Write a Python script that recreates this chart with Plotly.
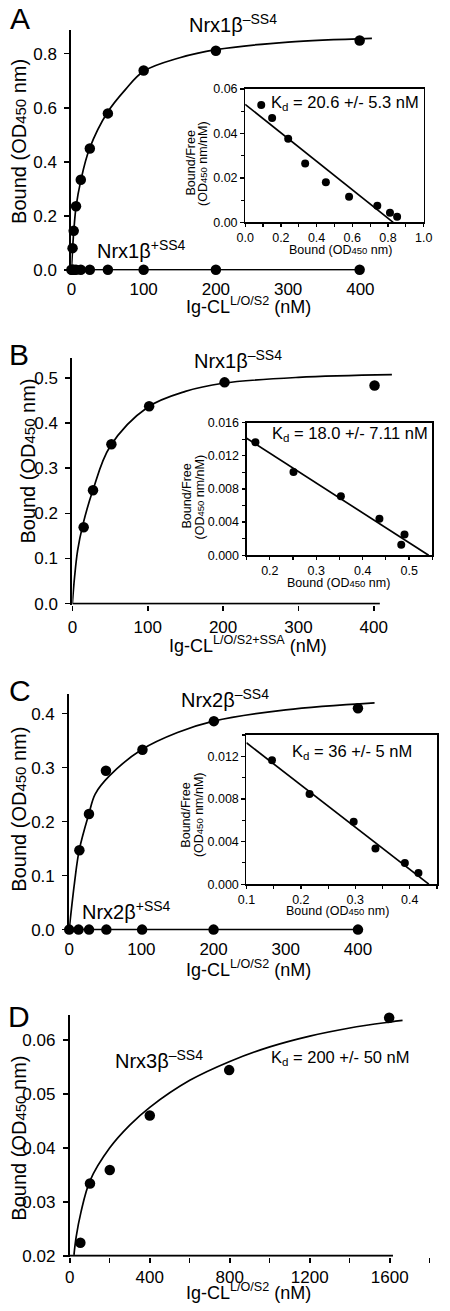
import plotly.graph_objects as go

W, H = 450, 1311
FONT = "Liberation Sans, Arial, sans-serif"

# ---------------- data ----------------
# Panel A  Nrx1b-SS4 / +SS4 vs Ig-CL L/O/S2
A_conc = [1.6, 3.2, 6.4, 13, 25.5, 50.5, 100, 200, 399]
A_minus = [0.080, 0.144, 0.235, 0.333, 0.449, 0.579, 0.738, 0.811, 0.849]
A_plus_conc = [0, 1.6, 3.2, 6.4, 13, 25.5, 50.5, 100, 200, 399]
A_plus = [0, 0, 0, 0, 0, 0, 0, 0, 0, 0]
A_fit_x = [0, 1.6, 3.2, 6.4, 13, 25, 50, 75, 100, 150, 200, 300, 416]
A_fit_y = [0, 0.075, 0.14, 0.232, 0.33, 0.448, 0.583, 0.668, 0.735, 0.785, 0.815, 0.843, 0.857]
A_sc_bound = [0.090, 0.151, 0.241, 0.336, 0.452, 0.582, 0.740, 0.811, 0.851]
A_sc_bf = [0.0528, 0.0469, 0.0376, 0.0265, 0.0180, 0.0115, 0.0075, 0.0043, 0.0025]
A_sc_line_x = [0, 0.829]
A_sc_line_y = [0.0531, 0]

# Panel B  Nrx1b-SS4 vs Ig-CL L/O/S2+SSA
B_conc = [15, 27.4, 51.8, 101.9, 202, 401]
B_minus = [0.169, 0.251, 0.353, 0.437, 0.490, 0.483]
B_fit_x = [0, 3, 7, 14, 27, 50, 100, 150, 200, 300, 424]
B_fit_y = [0, 0.06, 0.118, 0.175, 0.25, 0.348, 0.435, 0.470, 0.488, 0.501, 0.507]
B_sc_bound = [0.169, 0.251, 0.353, 0.436, 0.483, 0.490]
B_sc_bf = [0.01362, 0.01004, 0.00711, 0.00441, 0.00127, 0.0025]
B_sc_line_x = [0.15, 0.542]
B_sc_line_y = [0.0141, 0]

# Panel C  Nrx2b-SS4 / +SS4
C_conc = [14.1, 27.4, 50.9, 101.5, 200.4, 400]
C_minus = [0.147, 0.214, 0.294, 0.333, 0.386, 0.410]
C_plus_conc = [0, 13, 27.5, 51.5, 101, 200, 400]
C_plus = [0, 0, 0, 0, 0, 0, 0]
C_fit_x = [0, 7.4, 14, 27.4, 36, 56, 100, 150, 200, 300, 423]
C_fit_y = [0, 0.087, 0.148, 0.215, 0.251, 0.285, 0.333, 0.365, 0.386, 0.407, 0.420]
C_sc_bound = [0.147, 0.216, 0.297, 0.337, 0.391, 0.416]
C_sc_bf = [0.01163, 0.00847, 0.00585, 0.00334, 0.00198, 0.00105]
C_sc_line_x = [0.1, 0.435]
C_sc_line_y = [0.01327, 0]

# Panel D  Nrx3b-SS4
D_conc = [53, 101, 200, 400, 797, 1597]
D_minus = [0.02243, 0.0334, 0.0359, 0.0460, 0.0544, 0.0641]
D_fit_x = [21, 32, 56, 101, 200, 300, 400, 600, 800, 1000, 1200, 1400, 1600, 1664]
D_fit_y = [0.0202, 0.0235, 0.0281, 0.0339, 0.0400, 0.0442, 0.0475, 0.0525, 0.0560,
           0.0587, 0.0607, 0.0622, 0.0633, 0.0636]

A_yticks = [0, 0.2, 0.4, 0.6, 0.8]
B_yticks = [0, 0.1, 0.2, 0.3, 0.4, 0.5]
C_yticks = [0, 0.1, 0.2, 0.3, 0.4]
D_yticks = [0.02, 0.03, 0.04, 0.05, 0.06]
ABC_xticks = [0, 100, 200, 300, 400]
D_xticks = [0, 400, 800, 1200, 1600]


def xdom(l, r):
    return [l / W, r / W]


def ydom(b, t):
    return [1 - b / H, 1 - t / H]


fig = go.Figure()

LW = 1.7


def add_pts(x, y, ax, size=10.5):
    fig.add_trace(go.Scatter(x=x, y=y, mode="markers", xaxis="x" + ax, yaxis="y" + ax,
                             marker=dict(color="black", size=size), cliponaxis=False))


def add_curve(x, y, ax, spline=True, width=LW):
    fig.add_trace(go.Scatter(x=x, y=y, mode="lines", xaxis="x" + ax, yaxis="y" + ax,
                             line=dict(color="black", width=width,
                                       shape="spline" if spline else "linear", smoothing=1.0)))


# A
add_curve(A_fit_x, A_fit_y, "")
add_curve(A_plus_conc, A_plus, "", spline=False)
add_pts(A_conc, A_minus, "")
add_pts(A_plus_conc, A_plus, "")
add_curve(A_sc_line_x, A_sc_line_y, "2", spline=False)
add_pts(A_sc_bound, A_sc_bf, "2", size=8)
# B
add_curve(B_fit_x, B_fit_y, "3")
add_pts(B_conc, B_minus, "3")
add_curve(B_sc_line_x, B_sc_line_y, "4", spline=False)
add_pts(B_sc_bound, B_sc_bf, "4", size=8)
# C
add_curve(C_fit_x, C_fit_y, "5")
add_curve(C_plus_conc, C_plus, "5", spline=False)
add_pts(C_conc, C_minus, "5")
add_pts(C_plus_conc, C_plus, "5")
add_curve(C_sc_line_x, C_sc_line_y, "6", spline=False)
add_pts(C_sc_bound, C_sc_bf, "6", size=8)
# D
add_curve(D_fit_x, D_fit_y, "7")
add_pts(D_conc, D_minus, "7")

tick_main = dict(size=17, family=FONT, color="black")
tick_in = dict(size=12.5, family=FONT, color="black")


def main_y(dom, rng, tickvals, fmt, anchor):
    return dict(domain=dom, range=rng, tickvals=tickvals, tickformat=fmt, anchor=anchor,
                showline=True, linewidth=2, linecolor="black", ticks="outside", ticklen=5,
                tickwidth=1.6, tickcolor="black", tickfont=tick_main, showgrid=False,
                zeroline=False, ticklabelstandoff=4)


def main_x(dom, rng, tickvals, anchor, ticks, standoff):
    return dict(domain=dom, range=rng, tickvals=tickvals, anchor=anchor, showline=False,
                ticks=ticks, ticklen=5, tickwidth=1.6, tickcolor="black", tickfont=tick_main,
                showgrid=False, zeroline=False, ticklabelstandoff=standoff)


def in_ax(dom, rng, dtick, fmt, anchor, minor_dtick, tick0=0):
    return dict(domain=dom, range=rng, dtick=dtick, tick0=tick0, tickformat=fmt, anchor=anchor,
                showline=True, mirror=True, linewidth=1.6, linecolor="black", ticks="outside",
                ticklen=3.5, tickwidth=1.3, tickcolor="black", tickfont=tick_in, showgrid=False,
                zeroline=False, ticklabelstandoff=0,
                minor=dict(ticks="outside", ticklen=3, dtick=minor_dtick, tick0=tick0,
                           tickwidth=1.1, tickcolor="black", showgrid=False))


fig.update_layout(
    width=W, height=H, margin=dict(l=0, r=0, t=0, b=0),
    paper_bgcolor="white", plot_bgcolor="rgba(0,0,0,0)", showlegend=False,
    font=dict(family=FONT, color="black"), hovermode=False,
    # A main
    xaxis=main_x(xdom(65, 445), [0, 380 / 0.7525], ABC_xticks, "y", "", 6),
    yaxis=main_y(ydom(267, 23), [-1 / 273.4, 243 / 273.4], A_yticks, ".1f", "x"),
    # A inset
    xaxis2=in_ax(xdom(246, 432), [0, 1.0], 0.2, ".1f", "y2", 0.1),
    yaxis2=in_ax(ydom(218, 83), [0, 0.06], 0.02, ".2f", "x2", 0.01),
    # B main
    xaxis3=main_x(xdom(66, 445), [0, 379 / 0.785], ABC_xticks, "y3", "outside", 2),
    yaxis3=main_y(ydom(605, 355), [-1 / 457.2, 249 / 457.2], B_yticks, ".1f", "x3"),
    # B inset
    xaxis4=in_ax(xdom(247.5, 441), [0.15, 0.55], 0.1, ".1f", "y4", 0.05),
    yaxis4=in_ax(ydom(555, 420.7), [0, 0.016], 0.004, ".3f", "x4", 0.002),
    # C main
    xaxis5=main_x(xdom(62.7, 445), [0, 382.3 / 0.752], ABC_xticks, "y5", "", 6),
    yaxis5=main_y(ydom(935, 695), [-1 / 546.7, 239 / 546.7], C_yticks, ".1f", "x5"),
    # C inset
    xaxis6=in_ax(xdom(247.3, 445.8), [0.1, 0.45], 0.1, ".1f", "y6", 0.05),
    yaxis6=in_ax(ydom(888, 737), [0, 0.014], 0.004, ".3f", "x6", 0.002),
    # D main
    xaxis7=dict(main_x(xdom(63.3, 445), [0, 381.7 / 0.20833], D_xticks, "y7", "outside", 0),
                minor=dict(ticks="outside", ticklen=5, dtick=200, tickwidth=1.4, tickcolor="black")),
    yaxis7=main_y(ydom(1265.3, 1020), [0.02 - 1 / 5467, 0.02 + 244.3 / 5467], D_yticks, ".2f", "x7"),
)

# x-axis lines for B and D (drawn along the axis baseline)
fig.add_shape(type="line", xref="x3", yref="y3", x0=0, x1=408, y0=0, y1=0,
              line=dict(color="black", width=2))
fig.add_shape(type="line", xref="x7", yref="y7", x0=0, x1=1616, y0=0.02, y1=0.02,
              line=dict(color="black", width=2))


def ann(text, px, py, size, angle=0, xanchor="center"):
    fig.add_annotation(text=text, x=px / W, y=1 - py / H, xref="paper", yref="paper",
                       showarrow=False, xanchor=xanchor, yanchor="middle", textangle=angle,
                       font=dict(size=size, family=FONT, color="black"), borderpad=0)


def small(t, size):
    return "<span style='font-size:%gpx'>%s</span>" % (size, t)


ytitle = "Bound (OD" + small("450", 15) + " nm)"
in_xtitle = "Bound (OD" + small("450", 9.5) + " nm)"
in_ytitle2 = "(OD" + small("450", 9.5) + " nm/nM)"
xt1 = "Ig-CL<sup>L/O/S2</sup> (nM)"
xt2 = "Ig-CL<sup>L/O/S2+SSA</sup> (nM)"
kd_font = 16.5

# panel letters
ann("A", 11, 12, 30)
ann("B", 10, 352, 30)
ann("C", 11, 692, 30)
ann("D", 10, 1022, 30)

# A
ann("Nrx1β<sup>–SS4</sup>", 233, 17, 20)
ann("Nrx1β<sup>+SS4</sup>", 137.5, 246, 20)
ann(ytitle, 11, 136, 20, -90)
ann(xt1, 249.5, 302, 18)
ann("K<sub>d</sub> = 20.6 +/- 5.3 nM", 350.5, 97, kd_font)
ann("Bound/Free", 190, 158, 12.5, -90)
ann(in_ytitle2, 202, 158, 12.5, -90)
ann(in_xtitle, 345, 245.5, 12.5)

# B
ann("Nrx1β<sup>–SS4</sup>", 239, 357, 20)
ann(ytitle, 20, 460, 20, -90)
ann(xt2, 249, 645, 18)
ann("K<sub>d</sub> = 18.0 +/- 7.11 nM", 355, 432, kd_font)
ann("Bound/Free", 185, 495, 12.5, -90)
ann(in_ytitle2, 198.5, 496, 12.5, -90)
ann(in_xtitle, 343, 583.5, 12.5)

# C
ann("Nrx2β<sup>–SS4</sup>", 225, 700, 20)
ann("Nrx2β<sup>+SS4</sup>", 122, 915, 20)
ann(ytitle, 11, 812, 20, -90)
ann(xt1, 249.5, 973, 18)
ann("K<sub>d</sub> = 36 +/- 5 nM", 357, 754, kd_font)
ann("Bound/Free", 184, 818, 12.5, -90)
ann(in_ytitle2, 198, 818, 12.5, -90)
ann(in_xtitle, 342, 915, 12.5)

# D
ann("Nrx3β<sup>–SS4</sup>", 156, 1065, 20)
ann("K<sub>d</sub> = 200 +/- 50 nM", 345.5, 1064, kd_font)
ann(ytitle, 10, 1145, 20, -90)
ann(xt1, 249.5, 1300, 18)

fig.write_html("out.html", config={"staticPlot": True},
               post_script="document.body.style.margin='0';")
